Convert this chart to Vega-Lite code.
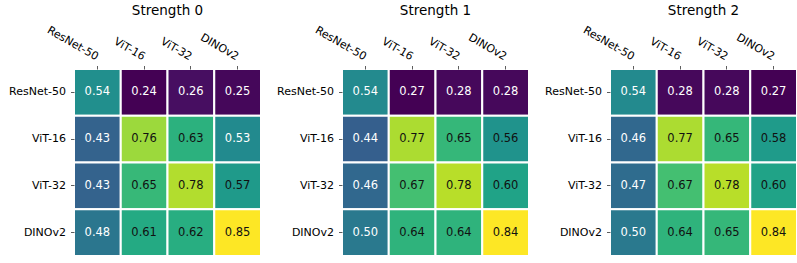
{
  "$schema": "https://vega.github.io/schema/vega-lite/v6.json",
  "padding": {"left": 8, "top": 4, "right": 0, "bottom": 0},
  "background": "white",
  "datasets": {
    "d": [
      {"strength": 0, "row": "ResNet-50", "col": "ResNet-50", "v": 0.54},
      {"strength": 0, "row": "ResNet-50", "col": "ViT-16", "v": 0.24},
      {"strength": 0, "row": "ResNet-50", "col": "ViT-32", "v": 0.26},
      {"strength": 0, "row": "ResNet-50", "col": "DINOv2", "v": 0.25},
      {"strength": 0, "row": "ViT-16", "col": "ResNet-50", "v": 0.43},
      {"strength": 0, "row": "ViT-16", "col": "ViT-16", "v": 0.76},
      {"strength": 0, "row": "ViT-16", "col": "ViT-32", "v": 0.63},
      {"strength": 0, "row": "ViT-16", "col": "DINOv2", "v": 0.53},
      {"strength": 0, "row": "ViT-32", "col": "ResNet-50", "v": 0.43},
      {"strength": 0, "row": "ViT-32", "col": "ViT-16", "v": 0.65},
      {"strength": 0, "row": "ViT-32", "col": "ViT-32", "v": 0.78},
      {"strength": 0, "row": "ViT-32", "col": "DINOv2", "v": 0.57},
      {"strength": 0, "row": "DINOv2", "col": "ResNet-50", "v": 0.48},
      {"strength": 0, "row": "DINOv2", "col": "ViT-16", "v": 0.61},
      {"strength": 0, "row": "DINOv2", "col": "ViT-32", "v": 0.62},
      {"strength": 0, "row": "DINOv2", "col": "DINOv2", "v": 0.85},
      {"strength": 1, "row": "ResNet-50", "col": "ResNet-50", "v": 0.54},
      {"strength": 1, "row": "ResNet-50", "col": "ViT-16", "v": 0.27},
      {"strength": 1, "row": "ResNet-50", "col": "ViT-32", "v": 0.28},
      {"strength": 1, "row": "ResNet-50", "col": "DINOv2", "v": 0.28},
      {"strength": 1, "row": "ViT-16", "col": "ResNet-50", "v": 0.44},
      {"strength": 1, "row": "ViT-16", "col": "ViT-16", "v": 0.77},
      {"strength": 1, "row": "ViT-16", "col": "ViT-32", "v": 0.65},
      {"strength": 1, "row": "ViT-16", "col": "DINOv2", "v": 0.56},
      {"strength": 1, "row": "ViT-32", "col": "ResNet-50", "v": 0.46},
      {"strength": 1, "row": "ViT-32", "col": "ViT-16", "v": 0.67},
      {"strength": 1, "row": "ViT-32", "col": "ViT-32", "v": 0.78},
      {"strength": 1, "row": "ViT-32", "col": "DINOv2", "v": 0.60},
      {"strength": 1, "row": "DINOv2", "col": "ResNet-50", "v": 0.50},
      {"strength": 1, "row": "DINOv2", "col": "ViT-16", "v": 0.64},
      {"strength": 1, "row": "DINOv2", "col": "ViT-32", "v": 0.64},
      {"strength": 1, "row": "DINOv2", "col": "DINOv2", "v": 0.84},
      {"strength": 2, "row": "ResNet-50", "col": "ResNet-50", "v": 0.54},
      {"strength": 2, "row": "ResNet-50", "col": "ViT-16", "v": 0.28},
      {"strength": 2, "row": "ResNet-50", "col": "ViT-32", "v": 0.28},
      {"strength": 2, "row": "ResNet-50", "col": "DINOv2", "v": 0.27},
      {"strength": 2, "row": "ViT-16", "col": "ResNet-50", "v": 0.46},
      {"strength": 2, "row": "ViT-16", "col": "ViT-16", "v": 0.77},
      {"strength": 2, "row": "ViT-16", "col": "ViT-32", "v": 0.65},
      {"strength": 2, "row": "ViT-16", "col": "DINOv2", "v": 0.58},
      {"strength": 2, "row": "ViT-32", "col": "ResNet-50", "v": 0.47},
      {"strength": 2, "row": "ViT-32", "col": "ViT-16", "v": 0.67},
      {"strength": 2, "row": "ViT-32", "col": "ViT-32", "v": 0.78},
      {"strength": 2, "row": "ViT-32", "col": "DINOv2", "v": 0.60},
      {"strength": 2, "row": "DINOv2", "col": "ResNet-50", "v": 0.50},
      {"strength": 2, "row": "DINOv2", "col": "ViT-16", "v": 0.64},
      {"strength": 2, "row": "DINOv2", "col": "ViT-32", "v": 0.65},
      {"strength": 2, "row": "DINOv2", "col": "DINOv2", "v": 0.84}
    ]
  },
  "config": {
    "font": "DejaVu Sans",
    "view": {"stroke": null},
    "axis": {"domain": false, "grid": false, "labelFont": "DejaVu Sans", "labelFontSize": 11, "labelColor": "black", "tickColor": "#333", "tickSize": 3.5, "tickWidth": 0.8, "title": null},
    "title": {"fontSize": 13.5, "fontWeight": "normal", "font": "DejaVu Sans", "color": "black", "offset": 6, "anchor": "middle", "frame": "group"}
  },
  "spacing": 14,
  "resolve": {"scale": {"color": "independent"}},
  "hconcat": [
    {
      "title": "Strength 0",
      "width": 187, "height": 187,
      "data": {"name": "d"},
      "transform": [{"filter": "datum.strength == 0"}],
      "encoding": {
        "x": {"field": "col", "type": "nominal", "sort": ["ResNet-50", "ViT-16", "ViT-32", "DINOv2"], "scale": {"paddingInner": 0, "paddingOuter": 0}, "axis": {"orient": "top", "labelAngle": 30, "labelAlign": "right", "labelBaseline": "middle", "labelPadding": 8, "labelBound": false, "labelOverlap": false, "minExtent": 45, "maxExtent": 45, "title": null}},
        "y": {"field": "row", "type": "nominal", "sort": ["ResNet-50", "ViT-16", "ViT-32", "DINOv2"], "scale": {"paddingInner": 0, "paddingOuter": 0}, "axis": {"labelPadding": 5, "minExtent": 64, "maxExtent": 64, "title": null}}
      },
      "layer": [
        {"mark": {"type": "rect", "stroke": "white", "strokeWidth": 2}, "encoding": {"color": {"field": "v", "type": "quantitative", "scale": {"scheme": "viridis", "zero": false, "nice": false}, "legend": null}}},
        {"mark": {"type": "text", "fontSize": 11.5}, "encoding": {"text": {"field": "v", "type": "quantitative", "format": ".2f"}, "color": {"condition": {"test": "datum.v < 0.555", "value": "white"}, "value": "#111111"}}}
      ]
    },
    {
      "title": "Strength 1",
      "width": 187, "height": 187,
      "data": {"name": "d"},
      "transform": [{"filter": "datum.strength == 1"}],
      "encoding": {
        "x": {"field": "col", "type": "nominal", "sort": ["ResNet-50", "ViT-16", "ViT-32", "DINOv2"], "scale": {"paddingInner": 0, "paddingOuter": 0}, "axis": {"orient": "top", "labelAngle": 30, "labelAlign": "right", "labelBaseline": "middle", "labelPadding": 8, "labelBound": false, "labelOverlap": false, "minExtent": 45, "maxExtent": 45, "title": null}},
        "y": {"field": "row", "type": "nominal", "sort": ["ResNet-50", "ViT-16", "ViT-32", "DINOv2"], "scale": {"paddingInner": 0, "paddingOuter": 0}, "axis": {"labelPadding": 5, "minExtent": 64, "maxExtent": 64, "title": null}}
      },
      "layer": [
        {"mark": {"type": "rect", "stroke": "white", "strokeWidth": 2}, "encoding": {"color": {"field": "v", "type": "quantitative", "scale": {"scheme": "viridis", "zero": false, "nice": false}, "legend": null}}},
        {"mark": {"type": "text", "fontSize": 11.5}, "encoding": {"text": {"field": "v", "type": "quantitative", "format": ".2f"}, "color": {"condition": {"test": "datum.v < 0.555", "value": "white"}, "value": "#111111"}}}
      ]
    },
    {
      "title": "Strength 2",
      "width": 187, "height": 187,
      "data": {"name": "d"},
      "transform": [{"filter": "datum.strength == 2"}],
      "encoding": {
        "x": {"field": "col", "type": "nominal", "sort": ["ResNet-50", "ViT-16", "ViT-32", "DINOv2"], "scale": {"paddingInner": 0, "paddingOuter": 0}, "axis": {"orient": "top", "labelAngle": 30, "labelAlign": "right", "labelBaseline": "middle", "labelPadding": 8, "labelBound": false, "labelOverlap": false, "minExtent": 45, "maxExtent": 45, "title": null}},
        "y": {"field": "row", "type": "nominal", "sort": ["ResNet-50", "ViT-16", "ViT-32", "DINOv2"], "scale": {"paddingInner": 0, "paddingOuter": 0}, "axis": {"labelPadding": 5, "minExtent": 64, "maxExtent": 64, "title": null}}
      },
      "layer": [
        {"mark": {"type": "rect", "stroke": "white", "strokeWidth": 2}, "encoding": {"color": {"field": "v", "type": "quantitative", "scale": {"scheme": "viridis", "zero": false, "nice": false}, "legend": null}}},
        {"mark": {"type": "text", "fontSize": 11.5}, "encoding": {"text": {"field": "v", "type": "quantitative", "format": ".2f"}, "color": {"condition": {"test": "datum.v < 0.555", "value": "white"}, "value": "#111111"}}}
      ]
    }
  ]
}
